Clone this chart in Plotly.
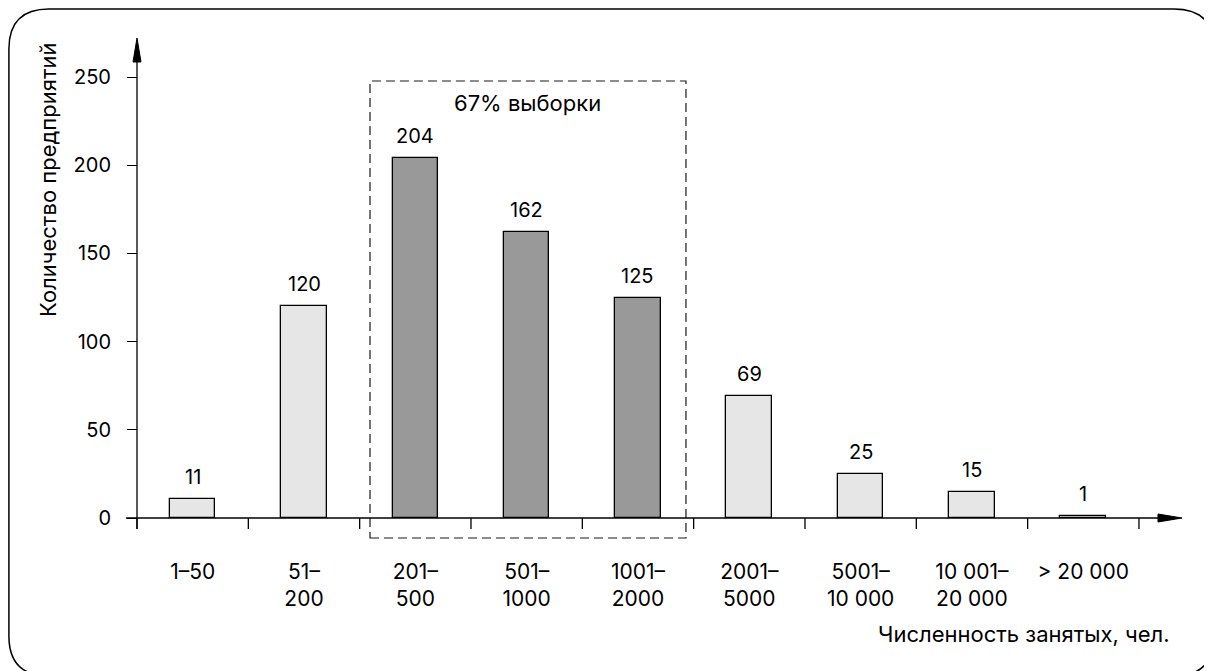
import plotly.graph_objects as go

# ---------------- data ----------------
categories = ["1–50", "51–<br>200", "201–<br>500", "501–<br>1000", "1001–<br>2000",
              "2001–<br>5000", "5001–<br>10 000", "10 001–<br>20 000", "&gt; 20 000"]
counts = [11, 120, 204, 162, 125, 69, 25, 15, 1]
highlight = [False, False, True, True, True, False, False, False, False]
y_ticks = [0, 50, 100, 150, 200, 250]
y_title = "Количество предприятий"
x_title = "Численность занятых, чел."
box_label = "67% выборки"

# ---------------- geometry (pixels, in screenshot coordinates) ----------------
OFF = 8                                   # default page body margin
W, H = 1212 - OFF, 671 - OFF
L, R, T, B = 120, 1195, 30, 548          # plot area in screenshot pixels
X0PX, STEP = 137.0, 111.33                # left boundary of first category, category width
Y0PX, PPU = 518.0, 1.764                  # pixel of y=0, pixels per unit


def xval(p):
    return (p - X0PX) / STEP - 0.5


def yval(p):
    return (Y0PX - p) / PPU


def px(p):
    return (p - L) / (R - L)


def py(p):
    return (B - p) / (B - T)


xr = [xval(L), xval(R)]
yr = [yval(B), yval(T)]
n = len(categories)
xs = list(range(n))

LIGHT = "#e6e6e6"
DARK = "#999999"
FONT = "Inter, Liberation Sans, Arial, sans-serif"
FS = 20
FS_TXT = 22

fig = go.Figure()
fig.add_trace(go.Bar(
    x=xs, y=counts, width=0.41,
    marker=dict(color=[DARK if h else LIGHT for h in highlight],
                line=dict(color="black", width=1.3)),
    hoverinfo="skip", showlegend=False,
))

# value labels above bars
for i, v in enumerate(counts):
    fig.add_annotation(x=i, y=v, text=str(v), showarrow=False, yanchor="bottom",
                       yshift=8, font=dict(size=FS, color="black", family=FONT))

# dashed box around highlighted group
hi = [i for i, h in enumerate(highlight) if h]
bx0, bx1 = min(hi) - 0.407, max(hi) + 0.431
fig.add_shape(type="rect", xref="x", yref="y",
              x0=bx0, x1=bx1, y0=yval(538), y1=yval(81),
              line=dict(color="#1a1a1a", width=1.2, dash="9px,5px"), layer="below")
fig.add_annotation(x=(bx0 + bx1) / 2, y=yval(103), text=box_label, xanchor="center", yanchor="middle",
                   showarrow=False, font=dict(size=FS_TXT, color="black", family=FONT))

# axes lines with arrows
ax_col = "black"
fig.add_shape(type="line", xref="x", yref="y", x0=-0.5, x1=-0.5, y0=yval(529), y1=yval(50),
              line=dict(color=ax_col, width=1.3))
fig.add_shape(type="path", xref="x", yref="y",
              path=f"M {-0.5 - 4 / STEP} {yval(62)} L {-0.5} {yval(38)} L {-0.5 + 4 / STEP} {yval(62)} Z",
              fillcolor=ax_col, line=dict(color=ax_col, width=1))
fig.add_shape(type="line", xref="x", yref="y", x0=xval(126), x1=xval(1168), y0=0, y1=0,
              line=dict(color=ax_col, width=1.3))
fig.add_shape(type="path", xref="x", yref="y",
              path=f"M {xval(1158)} {yval(514)} L {xval(1182)} 0 L {xval(1158)} {yval(522)} Z",
              fillcolor=ax_col, line=dict(color=ax_col, width=1))

# category boundary tick marks
for k in range(n + 1):
    fig.add_shape(type="line", xref="x", yref="y", x0=k - 0.5, x1=k - 0.5, y0=0, y1=yval(529),
                  line=dict(color="black", width=1.3))

# axis titles
fig.add_annotation(xref="paper", yref="paper", x=px(48), y=py(180), text=y_title, textangle=-90,
                   xanchor="center", yanchor="middle",
                   showarrow=False, font=dict(size=FS_TXT, color="black", family=FONT))
fig.add_annotation(xref="paper", yref="paper", x=px(1172), y=py(634), text=x_title,
                   xanchor="right", yanchor="middle",
                   showarrow=False, font=dict(size=FS_TXT, color="black", family=FONT))

# outer rounded frame
fl, ft, fr, fb, rad = 8.9, 8.9, 1214, 676, 40
path = (f"M {px(fl)} {py(ft + rad)} Q {px(fl)} {py(ft)} {px(fl + rad)} {py(ft)} "
        f"L {px(fr - rad)} {py(ft)} Q {px(fr)} {py(ft)} {px(fr)} {py(ft + rad)} "
        f"L {px(fr)} {py(fb - rad)} Q {px(fr)} {py(fb)} {px(fr - rad)} {py(fb)} "
        f"L {px(fl + rad)} {py(fb)} Q {px(fl)} {py(fb)} {px(fl)} {py(fb - rad)} Z")
fig.add_shape(type="path", xref="paper", yref="paper", path=path,
              line=dict(color="black", width=1.5), layer="above")

fig.update_layout(
    width=W, height=H,
    margin=dict(l=L - OFF, r=W - (R - OFF), t=T - OFF, b=H - (B - OFF), pad=0),
    paper_bgcolor="white", plot_bgcolor="white",
    font=dict(family=FONT, size=FS, color="black"),
    xaxis=dict(range=xr, tickmode="array", tickvals=xs, ticktext=categories,
               showgrid=False, zeroline=False, showline=False,
               anchor="free", position=py(Y0PX),
               ticks="", tickfont=dict(size=21, color="black", family=FONT),
               ticklabelstandoff=39),
    yaxis=dict(range=yr, tickmode="array", tickvals=y_ticks,
               showgrid=False, zeroline=False, showline=False,
               anchor="free", position=px(X0PX),
               ticks="outside", ticklen=10, tickwidth=1.3, tickcolor="black",
               tickfont=dict(size=FS, color="black", family=FONT), ticklabelstandoff=12),
    bargap=0, showlegend=False,
)

fig.write_html("out.html")
